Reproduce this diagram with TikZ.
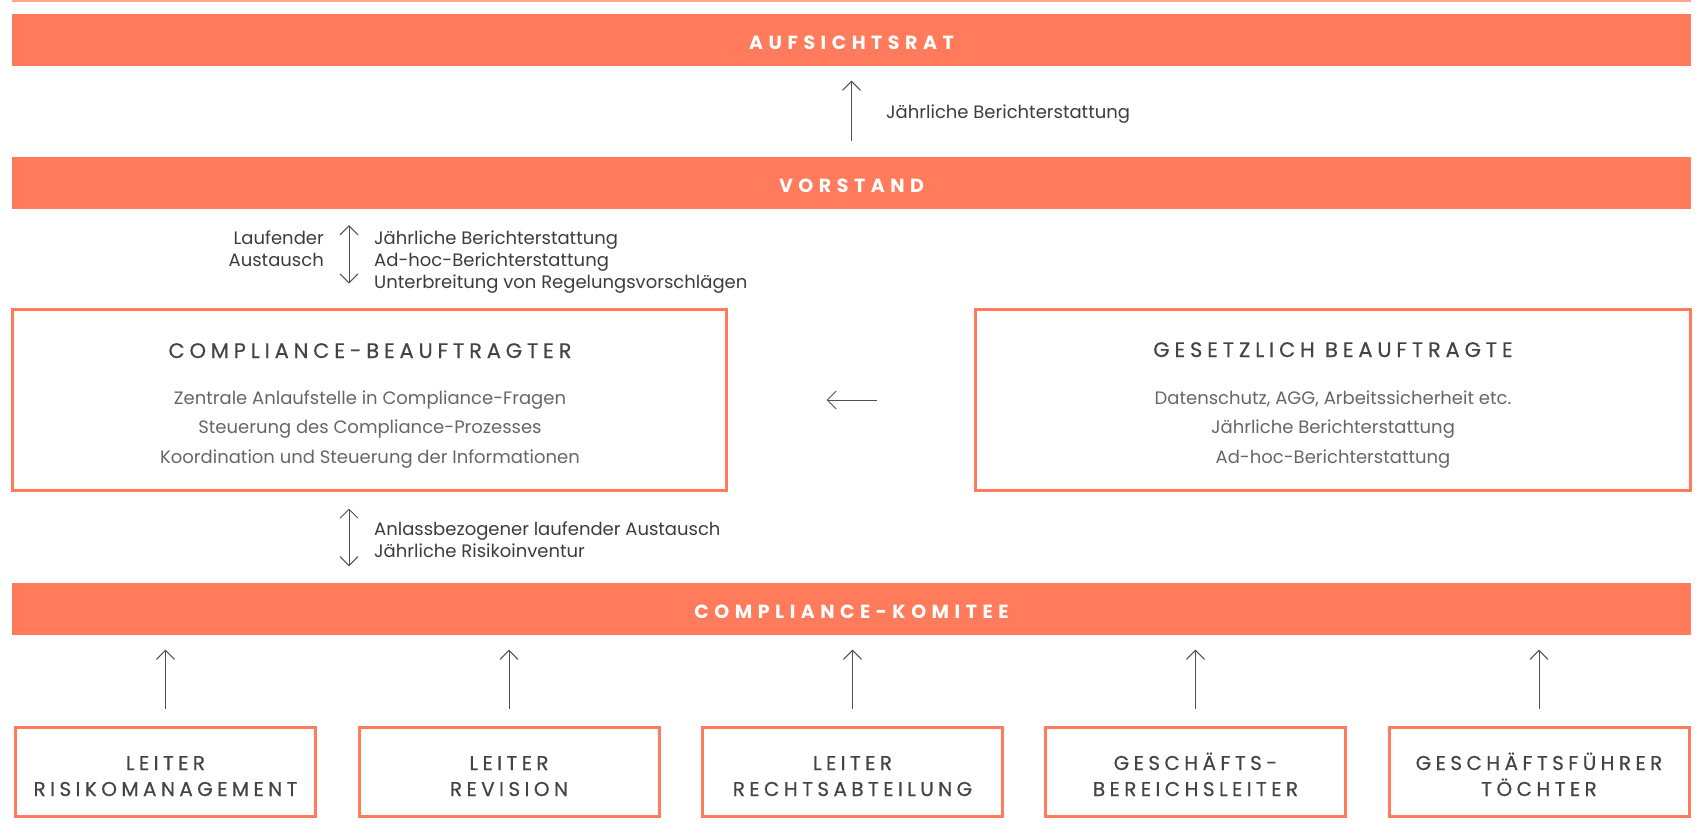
\documentclass[tikz,border=0pt]{standalone}
\usepackage{fontspec}
\setmainfont{Poppins}
\newfontfamily\barfont[LetterSpace=29]{Poppins}
\newfontfamily\capfont[LetterSpace=23,FakeBold=0.4]{Poppins}
\newfontfamily\smallcapfont[LetterSpace=22,FakeBold=0.4]{Poppins}
\usetikzlibrary{arrows.meta}
\definecolor{brand}{HTML}{FF7B5C}
\definecolor{brandlight}{HTML}{FFA68F}
\definecolor{linecol}{HTML}{505050}
\definecolor{bodycol}{HTML}{666666}
\definecolor{labcol}{HTML}{3C3C3C}
\definecolor{titlecol}{HTML}{444444}
\tikzset{
  bar/.style={fill=brand, draw=none, minimum width=1679pt, minimum height=52pt,
    inner sep=0pt, text=white, font=\barfont\bfseries\fontsize{19}{21}\selectfont,
    text height=19pt, text depth=0pt},
  framebox/.style={draw=brand, line width=3pt, inner sep=0pt},
  smallbox/.style={framebox, minimum width=300pt, minimum height=89pt},
  arr/.style={draw=linecol, line width=1pt, -{Straight Barb[length=9pt,width=18pt]}},
  darr/.style={draw=linecol, line width=1pt, {Straight Barb[length=9pt,width=18pt]}-{Straight Barb[length=9pt,width=18pt]}},
  lab/.style={text=labcol, font=\fontsize{18}{22}\selectfont, inner sep=0pt},
  body/.style={text=bodycol, font=\fontsize{18}{29.5}\selectfont, inner sep=0pt, align=center, anchor=base},
  boxtitle/.style={text=titlecol, font=\capfont\fontsize{21}{26}\selectfont, inner sep=0pt, anchor=base},
  smalltitle/.style={text=titlecol, font=\smallcapfont\fontsize{20}{26}\selectfont, inner sep=0pt, align=center, anchor=base},
}
\begin{document}
\begin{tikzpicture}[x=1pt,y=-1pt]
\useasboundingbox (0,0) rectangle (1698,838);
\fill[brandlight] (12,0) rectangle (1691,1.5);

% bars
\node[bar] (auf) at (851.5,39.5) {AUFSICHTSRAT};
\node[bar] (vor) at (851.5,183) {VORSTAND};
\node[bar] (kom) at (851.5,608.5) {COMPLIANCE-KOMITEE};

% middle boxes
\node[framebox, minimum width=714pt, minimum height=181pt] (cb) at (369.5,400) {};
\node[framebox, minimum width=715pt, minimum height=181pt] (gb) at (1333,400) {};

\node[boxtitle] (cbt) at (370,358) {COMPLIANCE-BEAUFTRAGTER};
\node[body] (cbl) at (370,463) {Zentrale Anlaufstelle in Compliance-Fragen\\Steuerung des Compliance-Prozesses\\Koordination und Steuerung der Informationen};
\node[boxtitle] (gbt) at (1333,357) {GESETZLICH BEAUFTRAGTE};
\node[body] (gbl) at (1333,463) {Datenschutz, AGG, Arbeitssicherheit etc.\\Jährliche Berichterstattung\\Ad-hoc-Berichterstattung};

% bottom boxes
\node[smallbox] (b1) at (165.5,772) {};
\node[smallbox] (b2) at (509,772) {};
\node[smallbox] (b3) at (852.5,772) {};
\node[smallbox] (b4) at (1195.5,772) {};
\node[smallbox] (b5) at (1539,772) {};
\node[smalltitle] (t1) at (165.5,796) {LEITER\\RISIKOMANAGEMENT};
\node[smalltitle] (t2) at (509,796) {LEITER\\REVISION};
\node[smalltitle] (t3) at (852.5,796) {LEITER\\RECHTSABTEILUNG};
\node[smalltitle] (t4) at (1195.5,796) {GESCHÄFTS-\\BEREICHSLEITER};
\node[smalltitle] (t5) at (1539,796) {GESCHÄFTSFÜHRER\\TÖCHTER};

% labels
\node[lab, anchor=base west] (l1) at (886,118) {Jährliche Berichterstattung};
\node[lab, anchor=base east, align=right] (l2) at (324,266) {Laufender\\Austausch};
\node[lab, anchor=base west, align=left] (l3) at (374,288) {Jährliche Berichterstattung\\Ad-hoc-Berichterstattung\\Unterbreitung von Regelungsvorschlägen};
\node[lab, anchor=base west, align=left] (l4) at (374,557) {Anlassbezogener laufender Austausch\\Jährliche Risikoinventur};

% connectors
\coordinate (dx) at (349,0);
\draw[arr, shorten <=16pt, shorten >=15pt] (vor.north) -- (auf.south);
\draw[darr, shorten <=16pt, shorten >=24.5pt] (vor.south -| dx) -- (cb.north -| dx);
\draw[arr, shorten <=97.5pt, shorten >=98.5pt] (gb.west) -- (cb.east);
\draw[darr, shorten <=16.5pt, shorten >=16pt] (cb.south -| dx) -- (kom.north -| dx);
\foreach \b in {b1,b2,b3,b4,b5}
  \draw[arr, shorten <=17.5pt, shorten >=15pt] (\b.north) -- (\b.north |- kom.south);
\end{tikzpicture}
\end{document}
